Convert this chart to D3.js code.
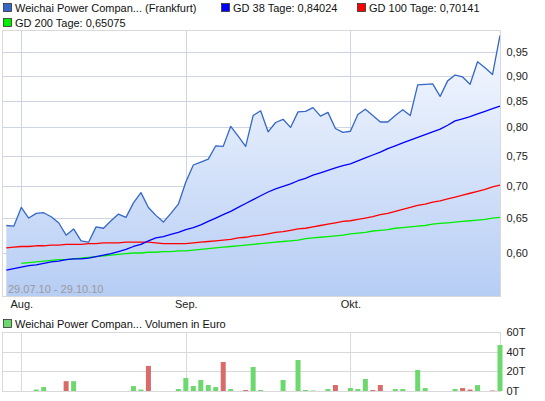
<!DOCTYPE html>
<html>
<head>
<meta charset="utf-8">
<script src="https://cdn.jsdelivr.net/npm/d3@7"></script>
<style>
  body { margin: 0; background: #fff; }
  text { font-family: "Liberation Sans", Arial, sans-serif; font-size: 11px; }
</style>
</head>
<body>
<script>
var dates = [
  "29.07.10","30.07.10",
  "02.08.10","03.08.10","04.08.10","05.08.10","06.08.10","09.08.10","10.08.10","11.08.10","12.08.10","13.08.10",
  "16.08.10","17.08.10","18.08.10","19.08.10","20.08.10","23.08.10","24.08.10","25.08.10","26.08.10","27.08.10",
  "30.08.10","31.08.10",
  "01.09.10","02.09.10","03.09.10","06.09.10","07.09.10","08.09.10","09.09.10","10.09.10","13.09.10","14.09.10",
  "15.09.10","16.09.10","17.09.10","20.09.10","21.09.10","22.09.10","23.09.10","24.09.10","27.09.10","28.09.10",
  "29.09.10","30.09.10",
  "01.10.10","04.10.10","05.10.10","06.10.10","07.10.10","08.10.10","11.10.10","12.10.10","13.10.10","14.10.10",
  "15.10.10","18.10.10","19.10.10","20.10.10","21.10.10","22.10.10","25.10.10","26.10.10","27.10.10","28.10.10",
  "29.10.10"
];

var price = [
  0.639, 0.638, 0.666, 0.650, 0.657, 0.658, 0.652, 0.643, 0.625, 0.634,
  0.617, 0.615, 0.637, 0.635, 0.646, 0.656, 0.651, 0.673, 0.689, 0.666,
  0.654, 0.644, 0.657, 0.671, 0.706, 0.734, 0.739, 0.744, 0.767, 0.766,
  0.802, 0.784, 0.766, 0.822, 0.831, 0.792, 0.809, 0.815, 0.800, 0.829,
  0.830, 0.837, 0.821, 0.828, 0.798, 0.791, 0.793, 0.824, 0.834, 0.822,
  0.810, 0.810, 0.822, 0.833, 0.822, 0.882, 0.883, 0.884, 0.859, 0.890,
  0.902, 0.898, 0.883, 0.930, 0.917, 0.903, 0.988
];

var gd38 = [
  0.577, 0.579, 0.581, 0.583, 0.584, 0.586, 0.588, 0.589, 0.591, 0.592,
  0.592, 0.593, 0.595, 0.597, 0.599, 0.602, 0.605, 0.609, 0.612, 0.617,
  0.621, 0.623, 0.626, 0.629, 0.633, 0.636, 0.640, 0.645, 0.650, 0.655,
  0.660, 0.666, 0.672, 0.678, 0.684, 0.690, 0.695, 0.699, 0.703, 0.708,
  0.712, 0.717, 0.721, 0.725, 0.729, 0.733, 0.736, 0.741, 0.746, 0.751,
  0.756, 0.762, 0.767, 0.772, 0.777, 0.782, 0.787, 0.792, 0.797, 0.804,
  0.812, 0.816, 0.820, 0.825, 0.830, 0.835, 0.840
];

var gd100 = [
  0.607, 0.608, 0.609, 0.609, 0.610, 0.610, 0.611, 0.611, 0.612, 0.612,
  0.612, 0.613, 0.613, 0.614, 0.614, 0.614, 0.615, 0.615, 0.615, 0.615,
  0.614, 0.613, 0.613, 0.613, 0.613, 0.614, 0.615, 0.616, 0.617, 0.618,
  0.619, 0.621, 0.622, 0.624, 0.625, 0.627, 0.629, 0.630, 0.632, 0.634,
  0.635, 0.637, 0.639, 0.641, 0.643, 0.645, 0.646, 0.648, 0.650, 0.652,
  0.655, 0.657, 0.660, 0.663, 0.666, 0.669, 0.671, 0.674, 0.676, 0.679,
  0.682, 0.685, 0.688, 0.691, 0.694, 0.698, 0.701
];

var gd200 = [
  null, null, 0.586, 0.587, 0.588, 0.589, 0.590, 0.591, 0.591, 0.592,
  0.593, 0.594, 0.595, 0.596, 0.597, 0.598, 0.599, 0.600, 0.600, 0.601,
  0.601, 0.602, 0.602, 0.603, 0.603, 0.604, 0.605, 0.606, 0.607, 0.608,
  0.609, 0.610, 0.611, 0.612, 0.613, 0.614, 0.615, 0.616, 0.617, 0.618,
  0.620, 0.621, 0.622, 0.623, 0.624, 0.625, 0.627, 0.628, 0.629, 0.631,
  0.632, 0.633, 0.635, 0.636, 0.637, 0.638, 0.639, 0.641, 0.642, 0.643,
  0.644, 0.645, 0.646, 0.647, 0.648, 0.650, 0.651
];

// Volumen in Euro
var volume = [
  0, 0, 0, 0, 1500, 4000, 0, 0, 10000, 10000,
  0, 0, 0, 0, 0, 0, 0, 5000, 1500, 25500,
  0, 0, 0, 2000, 13200, 5000, 11200, 6100, 4000, 29500,
  2000, 0, 1000, 24400, 1000, 0, 0, 11200, 0, 31500,
  1000, 500, 0, 2000, 6100, 0, 3000, 2000, 12200, 1000,
  6100, 0, 2000, 2000, 0, 21400, 3000, 0, 0, 0,
  2000, 3000, 1500, 6000, 0, 500, 46800
];

var legendItems = [
  {name: "Weichai Power Compan... (Frankfurt)", color: "#3467c8"},
  {name: "GD 38 Tage: 0,84024", color: "#0000ff"},
  {name: "GD 100 Tage: 0,70141", color: "#ff0000"},
  {name: "GD 200 Tage: 0,65075", color: "#00ee00"}
];

var priceTicks = [0.60, 0.65, 0.70, 0.75, 0.80, 0.85, 0.90, 0.95];
var volumeTicks = [0, 20000, 40000, 60000];
var monthNames = ["Jan.","Feb.","März","Apr.","Mai","Juni","Juli","Aug.","Sep.","Okt.","Nov.","Dez."];

var w = 545, h = 401;
var left = 2.5, right = 500.5;
var top1 = 30.5, bottom1 = 296.5;
var top2 = 332.5, bottom2 = 391.5;

var parse = d3.timeParse("%d.%m.%y");
var de = d3.formatLocale({decimal: ",", thousands: ".", grouping: [3], currency: ["", " €"]});

var svg = d3.select("body")
            .append("svg")
            .attr("width", w)
            .attr("height", h);

var xScale = d3.scalePoint()
               .domain(dates)
               .range([6.3, 500]);

var yScale = d3.scaleLog()
               .domain([0.5437, 1.0])
               .range([bottom1 - 0.5, top1 - 0.5]);

var vScale = d3.scaleLinear()
               .domain([0, 60000])
               .range([bottom2 - 0.5, top2 - 0.5]);

// first trading day of every month
var monthStarts = dates.filter(function(d, i) {
    return i > 0 && parse(d).getMonth() != parse(dates[i - 1]).getMonth();
});

var grad = svg.append("defs")
              .append("linearGradient")
              .attr("id", "areaFill")
              .attr("gradientUnits", "userSpaceOnUse")
              .attr("x1", 0).attr("x2", 0)
              .attr("y1", top1).attr("y2", bottom1);
grad.append("stop").attr("offset", "0%").attr("stop-color", "#f7faff");
grad.append("stop").attr("offset", "100%").attr("stop-color", "#b6cdf4");

// ---------- price panel ----------
var grid = svg.append("g").attr("stroke", "#d9d9d9").attr("stroke-width", 1);

grid.selectAll(".hgrid")
    .data(priceTicks)
    .enter()
    .append("line")
    .attr("x1", left).attr("x2", right)
    .attr("y1", d => Math.round(yScale(d)) + 0.5)
    .attr("y2", d => Math.round(yScale(d)) + 0.5);

grid.selectAll(".vgrid")
    .data(monthStarts)
    .enter()
    .append("line")
    .attr("x1", d => Math.round(xScale(d)) + 0.5)
    .attr("x2", d => Math.round(xScale(d)) + 0.5)
    .attr("y1", top1).attr("y2", bottom1);

var area = d3.area()
             .x((d, i) => xScale(dates[i]))
             .y0(bottom1 - 0.5)
             .y1(d => yScale(d));

svg.append("path")
   .datum(price)
   .attr("d", area)
   .attr("fill", "url(#areaFill)");

// grid lines show faintly through the fill
grid.clone(true).attr("stroke", "#c4d2ea").attr("stroke-opacity", 0.6);

var line = d3.line()
             .defined(d => d != null)
             .x((d, i) => xScale(dates[i]))
             .y(d => yScale(d));

var lines = [
    {data: gd200, color: "#00ee00"},
    {data: gd100, color: "#ff0000"},
    {data: gd38, color: "#0000ff"},
    {data: price, color: "#3467c8"}
];

svg.selectAll(".series")
   .data(lines)
   .enter()
   .append("path")
   .attr("d", d => line(d.data))
   .attr("fill", "none")
   .attr("stroke", d => d.color)
   .attr("stroke-width", 1.3)
   .attr("stroke-linejoin", "round");

svg.append("rect")
   .attr("x", left).attr("y", top1)
   .attr("width", right - left).attr("height", bottom1 - top1)
   .attr("fill", "none")
   .attr("stroke", "#d9d9d9");

var yAxis = d3.axisRight()
              .scale(yScale)
              .tickValues(priceTicks)
              .tickSize(0)
              .tickPadding(6)
              .tickFormat(de.format(".2f"));

svg.append("g")
   .attr("transform", "translate(" + right + ",0)")
   .call(yAxis)
   .call(g => g.select(".domain").remove())
   .selectAll("text")
   .attr("fill", "#222")
   .style("font-size", "11px");

var xAxis = d3.axisBottom()
              .scale(xScale)
              .tickValues(monthStarts)
              .tickSize(0)
              .tickPadding(4)
              .tickFormat(d => monthNames[parse(d).getMonth()]);

svg.append("g")
   .attr("transform", "translate(0," + bottom1 + ")")
   .call(xAxis)
   .call(g => g.select(".domain").remove())
   .selectAll("text")
   .attr("fill", "#222")
   .style("font-size", "11px");

svg.append("text")
   .attr("x", 8)
   .attr("y", 293)
   .attr("fill", "#9a9a9a")
   .text(dates[0] + " - " + dates[dates.length - 1]);

// ---------- legend ----------
var legendPos = [[3, 7], [221, 7], [357, 7], [3, 22]];

var legend = svg.selectAll(".legend")
                .data(legendItems)
                .enter()
                .append("g")
                .attr("transform", (d, i) => "translate(" + legendPos[i][0] + "," + legendPos[i][1] + ")");

legend.append("rect")
      .attr("x", 0.5).attr("y", -3.5)
      .attr("width", 8).attr("height", 8)
      .attr("fill", d => d.color)
      .attr("stroke", "#333")
      .attr("stroke-width", 0.8);

legend.append("text")
      .attr("x", 12)
      .attr("y", 4.5)
      .attr("fill", "#111")
      .text(d => d.name);

// ---------- volume panel ----------
var vgrid = svg.append("g").attr("stroke", "#d9d9d9").attr("stroke-width", 1);

vgrid.selectAll(".hgrid")
     .data(volumeTicks)
     .enter()
     .append("line")
     .attr("x1", left).attr("x2", right)
     .attr("y1", d => Math.round(vScale(d)) + 0.5)
     .attr("y2", d => Math.round(vScale(d)) + 0.5);

vgrid.selectAll(".vgrid")
     .data(monthStarts)
     .enter()
     .append("line")
     .attr("x1", d => Math.round(xScale(d)) + 0.5)
     .attr("x2", d => Math.round(xScale(d)) + 0.5)
     .attr("y1", top2).attr("y2", bottom2);

svg.append("rect")
   .attr("x", left).attr("y", top2)
   .attr("width", right - left).attr("height", bottom2 - top2)
   .attr("fill", "none")
   .attr("stroke", "#d9d9d9");

svg.append("g")
   .selectAll("rect")
   .data(volume)
   .enter()
   .append("rect")
   .attr("x", (d, i) => xScale(dates[i]) - 2.5)
   .attr("y", d => vScale(d))
   .attr("width", 5)
   .attr("height", d => vScale(0) - vScale(d))
   .attr("fill", (d, i) => (i > 0 && price[i] < price[i - 1]) ? "#da6b6b" : "#6dd86d");

var vAxis = d3.axisRight()
              .scale(vScale)
              .tickValues(volumeTicks)
              .tickSize(0)
              .tickPadding(6)
              .tickFormat(d => (d / 1000) + "T");

svg.append("g")
   .attr("transform", "translate(" + right + ",0)")
   .call(vAxis)
   .call(g => g.select(".domain").remove())
   .selectAll("text")
   .attr("fill", "#222")
   .style("font-size", "11px");

var vLegend = svg.append("g").attr("transform", "translate(3,323)");
vLegend.append("rect")
       .attr("x", 0.5).attr("y", -3.5)
       .attr("width", 8).attr("height", 8)
       .attr("fill", "#6dd86d")
       .attr("stroke", "#333")
       .attr("stroke-width", 0.8);
vLegend.append("text")
       .attr("x", 12)
       .attr("y", 4.5)
       .attr("fill", "#111")
       .text("Weichai Power Compan... Volumen in Euro");
</script>
</body>
</html>
